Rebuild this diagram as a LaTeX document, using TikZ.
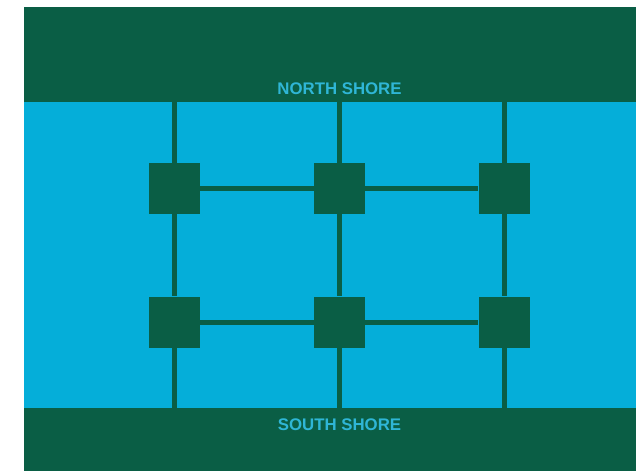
\documentclass[tikz,border=0pt]{standalone}
\usepackage{fontspec}
\setmainfont{Liberation Sans}
\definecolor{shore}{HTML}{0A5E45}
\definecolor{water}{HTML}{05AED9}
\definecolor{label}{HTML}{2FB6D6}
\begin{document}
\begin{tikzpicture}[x=1pt,y=-1pt,
  pier/.style={draw=none,fill=shore,minimum width=51pt,minimum height=51pt,inner sep=0pt},
  span/.style={draw=shore,line width=5pt},
  shorelabel/.style={text=label,font=\bfseries\fontsize{16.8}{18}\selectfont,inner sep=0pt}]
  \useasboundingbox (0,0) rectangle (636,471);
  % water between the shores
  \fill[water] (24,7) rectangle (636,471);
  % shore bands
  \fill[shore] (24,7) rectangle (636,102);
  \fill[shore] (24,408) rectangle (636,471);
  \node[shorelabel] (north) at (339.5,89) {NORTH SHORE};
  \node[shorelabel] (south) at (339.5,424.5) {SOUTH SHORE};
  % anchor points on the shore edges
  \coordinate (n1) at (174.5,102);
  \coordinate (n2) at (339.5,102);
  \coordinate (n3) at (504,102);
  \coordinate (s1) at (174.5,408);
  \coordinate (s2) at (339.5,408);
  \coordinate (s3) at (504,408);
  % piers
  \node[pier] (a1) at (174.5,188.5) {};
  \node[pier] (a2) at (339.5,188.5) {};
  \node[pier] (a3) at (504,188.5) {};
  \node[pier] (b1) at (174.5,322) {};
  \node[pier] (b2) at (339.5,322) {};
  \node[pier] (b3) at (504,322) {};
  % vertical spans, shore to shore through the piers
  \foreach \i in {1,2,3}{
    \draw[span] (n\i) -- (a\i);
    \draw[span] (a\i) -- (b\i);
    \draw[span] (b\i) -- (s\i);
  }
  % horizontal spans between the piers
  \draw[span] (a1) -- (a2);
  \draw[span] (a2) -- (a3);
  \draw[span] (b1) -- (b2);
  \draw[span] (b2) -- (b3);
\end{tikzpicture}
\end{document}
